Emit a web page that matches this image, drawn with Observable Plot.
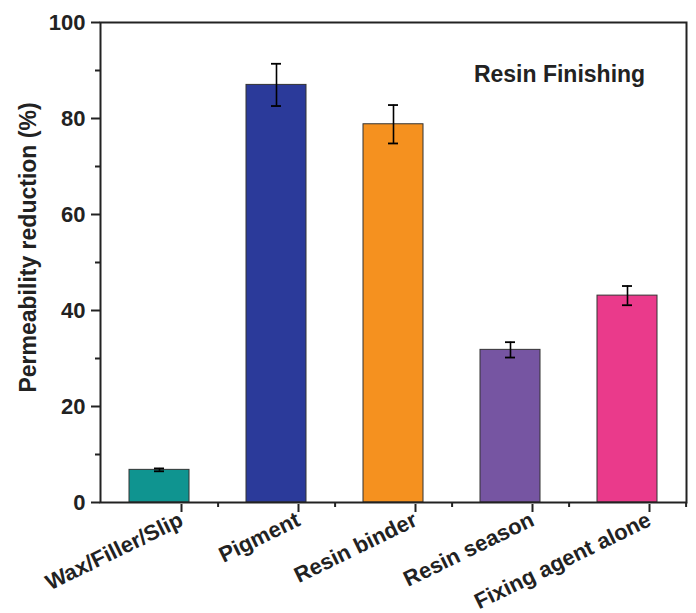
<!DOCTYPE html>
<html>
<head>
<meta charset="utf-8">
<script src="https://cdn.jsdelivr.net/npm/d3@7"></script>
<script src="https://cdn.jsdelivr.net/npm/@observablehq/plot@0.6"></script>
<style>
  html, body { margin: 0; padding: 0; background: #fff; }
</style>
</head>
<body>
<div id="chart"></div>
<script>
const categories = ["Wax/Filler/Slip", "Pigment", "Resin binder", "Resin season", "Fixing agent alone"];
const values = [6.8, 87.0, 78.8, 31.8, 43.1];
const errors = [0.3, 4.4, 4.0, 1.6, 2.0];
const colors = ["#0f9490", "#2b3a9a", "#f5911f", "#7655a2", "#ea3a8b"];
const majorYTicks = [0, 20, 40, 60, 80, 100];
const minorYTicks = [10, 30, 50, 70, 90];
const annotation = "Resin Finishing";
const yLabel = "Permeability reduction (%)";

const data = categories.map((c, i) => ({name: c, value: values[i], err: errors[i], color: colors[i]}));

const width = 696, height = 613;
const marginLeft = 100, marginRight = 10, marginTop = 22, marginBottom = 111;
const step = (width - marginLeft - marginRight) / categories.length;
const ink = "#222";

const chart = Plot.plot({
  width, height, marginLeft, marginRight, marginTop, marginBottom,
  style: {fontFamily: "'Liberation Sans', Arial, sans-serif", fontWeight: "bold", fontSize: "22px", color: ink, background: "#fff"},
  x: {domain: categories, paddingInner: 0.49, paddingOuter: 0.245, label: null},
  y: {domain: [0, 100], label: null},
  marks: [
    Plot.barY(data, {x: "name", y: "value", fill: "color", stroke: "#333", strokeWidth: 1}),
    Plot.ruleX(data, {x: "name", y1: d => d.value - d.err, y2: d => d.value + d.err, stroke: "#000", strokeWidth: 1.6}),
    Plot.tickY(data, {x: "name", y: d => d.value + d.err, stroke: "#000", strokeWidth: 1.8, insetLeft: 25, insetRight: 25}),
    Plot.tickY(data, {x: "name", y: d => d.value - d.err, stroke: "#000", strokeWidth: 1.8, insetLeft: 25, insetRight: 25}),
    Plot.frame({stroke: ink, strokeWidth: 2}),
    Plot.axisY({ticks: majorYTicks, tickSize: 9, tickPadding: 6, strokeWidth: 2, stroke: ink, label: null, fontSize: 22}),
    Plot.axisY({ticks: minorYTicks, tickSize: 5, strokeWidth: 2, stroke: ink, text: null, label: null}),
    Plot.text([yLabel], {frameAnchor: "left", rotate: -90, textAnchor: "middle", lineAnchor: "middle", dx: -72, dy: -15, fontSize: 23, fontWeight: "bold", fill: ink}),
    Plot.axisX({tickSize: 8, tickRotate: -26, tickPadding: 6, strokeWidth: 2, stroke: ink, label: null, fontSize: 22, dx: 22, dy: 2}),
    Plot.axisX({tickSize: 5, strokeWidth: 2, stroke: ink, text: null, label: null, dx: step / 2}),
    Plot.text([annotation], {frameAnchor: "top-right", textAnchor: "middle", lineAnchor: "middle", dx: -127, dy: 52, fontSize: 23, fontWeight: "bold", fill: ink})
  ]
});
document.getElementById("chart").appendChild(chart);
</script>
</body>
</html>
